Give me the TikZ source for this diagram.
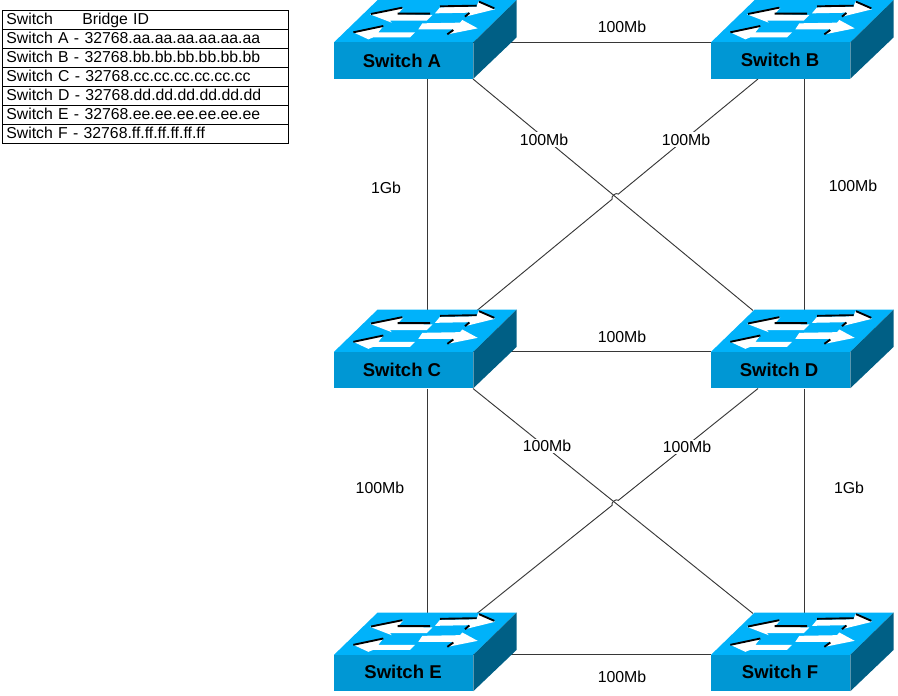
\documentclass[tikz,border=0pt]{standalone}
\usepackage{fontspec}
\setmainfont{Liberation Sans}
\usetikzlibrary{calc,backgrounds}
\definecolor{swtop}{RGB}{0,178,250}
\definecolor{swfront}{RGB}{0,151,212}
\definecolor{swside}{RGB}{0,95,133}
\definecolor{linkc}{RGB}{55,55,55}
\tikzset{
  link/.style={draw=linkc,line width=.7pt},
  speed/.style={font=\fontsize{11.9pt}{13pt}\selectfont,fill=white,inner sep=1pt},
  swlabel/.style={font=\bfseries\fontsize{13.9pt}{15pt}\selectfont,inner sep=0pt,text=black},
  rowbox/.style={draw=black,line width=.6pt,anchor=north west,minimum width=214.5pt,minimum height=14.175pt,inner sep=0pt,inner xsep=3pt,align=left,text width=208.5pt,text height=9pt,text depth=2.5pt,font=\fontsize{11.85pt}{13pt}\selectfont},
  arrowface/.style={fill=white},
  arrowedge/.style={draw=black,line width=1.4pt}
}
\newcommand{\netswitch}[2]{%
  \begin{scope}[shift={(#1,#2)},x=.25pt,y=-.25pt]
    \fill[swtop] (27,127) -- (158,0) -- (575,0) -- (445,127) -- cycle;
    \fill[swfront] (27,127) rectangle (445,236);
    \fill[swside] (445,127) -- (575,0) -- (575,112) -- (445,236) -- cycle;
    \fill[arrowface] (135,43) -- (235,24) -- (218,42) -- (322,45) -- (305,62) -- (195,62) -- (200,68) -- cycle;
    \draw[arrowedge] (138,42) -- (232,23) (218,41) -- (315,41);
    \fill[arrowface] (330,40) -- (345,22) -- (455,20) -- (460,5) -- (510,28) -- (420,50) -- (435,38) -- cycle;
    \draw[arrowedge] (345,19) -- (455,17) (462,5) -- (508,25);
    \draw[arrowedge] (420,50) -- (433,39);
    \fill[arrowface] (85,97) -- (175,78) -- (160,97) -- (270,97) -- (255,112) -- (145,112) -- (130,118) -- cycle;
    \draw[arrowedge] (85,97) -- (175,78);
    \fill[arrowface] (280,88) -- (292,70) -- (405,68) -- (412,60) -- (458,85) -- (368,103) -- (385,88) -- cycle;
    \draw[arrowedge] (367,103) -- (385,90);
  \end{scope}}
\begin{document}
\begin{tikzpicture}[x=.75pt,y=-.75pt]
\useasboundingbox (0,0) rectangle (898,695);
% rows of the table
\node[rowbox] (r0) at (2,10.5) {Switch\hspace{22pt}Bridge ID};
\node[rowbox] (r1) at (2,29.4) {Switch A - 32768.aa.aa.aa.aa.aa.aa};
\node[rowbox] (r2) at (2,48.3) {Switch B - 32768.bb.bb.bb.bb.bb.bb};
\node[rowbox] (r3) at (2,67.2) {Switch C - 32768.cc.cc.cc.cc.cc.cc};
\node[rowbox] (r4) at (2,86.1) {Switch D - 32768.dd.dd.dd.dd.dd.dd};
\node[rowbox] (r5) at (2,105) {Switch E - 32768.ee.ee.ee.ee.ee.ee};
\node[rowbox] (r6) at (2,123.9) {Switch F - 32768.ff.ff.ff.ff.ff.ff};
% switches
\netswitch{325}{0}\netswitch{702}{0}\netswitch{325}{309.5}\netswitch{702}{309.5}\netswitch{325}{612.5}\netswitch{702}{612.5}
\node[swlabel] (A) at (402,61) {Switch A};
\node[swlabel] (B) at (780,60) {Switch B};
\node[swlabel] (C) at (402,370) {Switch C};
\node[swlabel] (D) at (779,370) {Switch D};
\node[swlabel] (E) at (403,672) {Switch E};
\node[swlabel] (F) at (780,672) {Switch F};
% connector end points on each switch
\foreach \n/\x/\y in {A/334/0,B/711/0,C/334/309.5,D/711/309.5,E/334/612.5,F/711/612.5}{
  \coordinate (\n l) at (\x+139,\y+42);
  \coordinate (\n r) at (\x,\y+42);
  \coordinate (\n v) at (\x+93.5,\y+79);
  \coordinate (\n w) at (\x+93.5,\y+1);
  \coordinate (\n d) at (\x+139,\y+79);
  \coordinate (\n s) at (\x+47,\y+79);
  \coordinate (\n t) at (\x+143,\y+1);
  \coordinate (\n u) at (\x+42,\y+1);
}
\begin{pgfonlayer}{background}
  \draw[link] (Al) -- (Br);
  \draw[link] (Cl) -- (Dr);
  \draw[link] (El) -- (Fr);
  \draw[link] (Av) -- ($(Cw)+(0,10)$);
  \draw[link] (Bv) -- ($(Dw)+(0,10)$);
  \draw[link] (Cv) -- ($(Ew)+(0,10)$);
  \draw[link] (Dv) -- ($(Fw)+(0,10)$);
  \draw[link] (Ad) -- (Du);
  \draw[link] (Cd) -- (Fu);
  \draw[link] (Bs) -- ($(Bs)!.497!(Ct)$) to[bend right=80] ($(Bs)!.519!(Ct)$) -- (Ct);
  \draw[link] (Ds) -- ($(Ds)!.497!(Et)$) to[bend right=80] ($(Ds)!.519!(Et)$) -- (Et);
\end{pgfonlayer}
% speeds
\node[speed] (s1) at (622,27) {100Mb};
\node[speed] (s2) at (544,139.5) {100Mb};
\node[speed] (s3) at (686,139.5) {100Mb};
\node[speed] (s4) at (386,187.5) {1Gb};
\node[speed] (s5) at (853,186) {100Mb};
\node[speed] (s6) at (622,337) {100Mb};
\node[speed] (s7) at (547,446) {100Mb};
\node[speed] (s8) at (687,447) {100Mb};
\node[speed] (s9) at (380,488) {100Mb};
\node[speed] (s10) at (849,488) {1Gb};
\node[speed] (s11) at (622,677) {100Mb};
\end{tikzpicture}
\end{document}
